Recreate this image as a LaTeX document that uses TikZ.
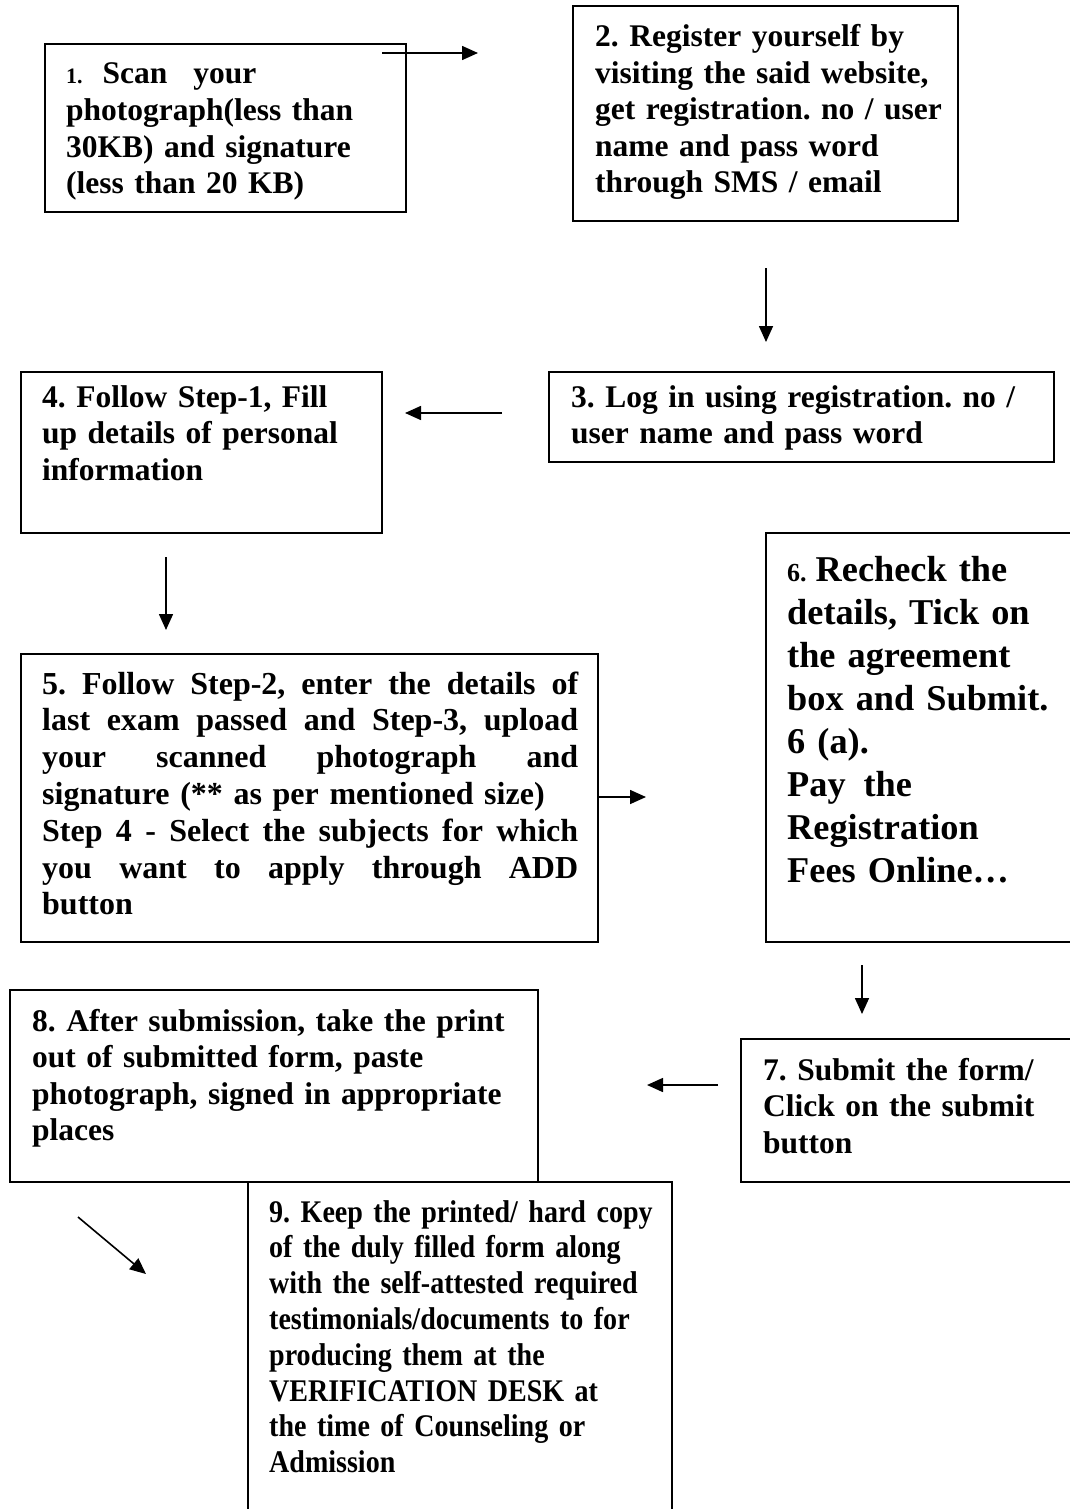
\documentclass[tikz,border=0pt]{standalone}
\usepackage{fontspec}
\setmainfont{Liberation Serif}
\newfontfamily\condfont[FakeStretch=0.89]{Liberation Serif}
\usetikzlibrary{arrows.meta}
\newcommand\jline[1]{\leavevmode\hbox to 536pt{\spaceskip=0.25em plus 1fil\relax #1}}
\begin{document}
\frenchspacing
\begin{tikzpicture}[x=1pt,y=-1pt,
  box/.style={draw, line width=1.6pt, inner sep=0pt, outer sep=0pt, anchor=north west},
  txt/.style={anchor=base west, inner sep=0pt, text width=700pt, align=left,
              font=\bfseries\fontsize{31.5}{36.6}\selectfont},
  arr/.style={line width=1.6pt, -{Triangle[length=16pt,width=14pt]}}]
\useasboundingbox[fill=white] (0,0) rectangle (1070,1509);

% boxes
\node[box, minimum width=361pt, minimum height=168pt] (b1) at (45,44) {};
\node[box, minimum width=385pt, minimum height=215pt] (b2) at (573,6) {};
\node[box, minimum width=505pt, minimum height=90pt]  (b3) at (549,372) {};
\node[box, minimum width=361pt, minimum height=161pt] (b4) at (21,372) {};
\node[box, minimum width=577pt, minimum height=288pt] (b5) at (21,654) {};
\node[box, minimum width=310pt, minimum height=409pt] (b6) at (766,533) {};
\node[box, minimum width=335pt, minimum height=143pt] (b7) at (741,1039) {};
\node[box, minimum width=528pt, minimum height=192pt] (b8) at (10,990) {};
\node[box, minimum width=424pt, minimum height=335pt] (b9) at (248,1182) {};

% texts
\node[txt] (t1) at (66,84) {{\fontsize{22}{36.6}\selectfont 1.}\hspace{20pt}Scan\hspace{26pt}your\\photograph(less than\\30KB) and signature\\(less than 20 KB)};
\node[txt] (t2) at (595,46.5) {2. Register yourself by\\visiting the said website,\\get registration. no / user\\name and pass word\\through SMS / email};
\node[txt] (t3) at (571,407) {3. Log in using registration. no /\\user name and pass word};
\node[txt] (t4) at (42,407) {4. Follow Step-1, Fill\\up details of personal\\information};
\node[txt, font=\bfseries\fontsize{32}{36.8}\selectfont] (t5) at (42,694) {%
\jline{5. Follow Step-2, enter the details of}\\
\jline{last exam passed and Step-3, upload}\\
\jline{your scanned photograph and}\\
signature (** as per mentioned size)\\
\jline{Step 4 - Select the subjects for which}\\
\jline{you want to apply through ADD}\\
button};
\node[txt, font=\bfseries\fontsize{36.3}{43}\selectfont] (t6) at (787,581) {{\fontsize{26}{43}\selectfont 6.}\hspace{9pt}Recheck the\\details, Tick on\\the agreement\\box and Submit.\\6 (a).\\Pay\hspace{18pt}the\\Registration\\Fees Online…};
\node[txt] (t7) at (763,1080) {7. Submit the form/\\Click on the submit\\button};
\node[txt] (t8) at (32,1031) {8. After submission, take the print\\out of submitted form, paste\\photograph, signed in appropriate\\places};
\node[txt, font=\condfont\bfseries\fontsize{31.5}{35.8}\selectfont] (t9) at (269,1222) {9. Keep the printed/ hard copy\\of the duly filled form along\\with the self-attested required\\testimonials/documents to for\\producing them at the\\VERIFICATION DESK at\\the time of Counseling or\\Admission};

% arrow end points
\coordinate (a1s) at (382,53);  \coordinate (a1e) at (478,53);
\coordinate (a2s) at (766,268); \coordinate (a2e) at (766,342);
\coordinate (a3s) at (502,413); \coordinate (a3e) at (405,413);
\coordinate (a4s) at (166,557); \coordinate (a4e) at (166,630);
\coordinate (a5s) at (598,797); \coordinate (a5e) at (646,797);
\coordinate (a6s) at (862,965); \coordinate (a6e) at (862,1014);
\coordinate (a7s) at (718,1085); \coordinate (a7e) at (647,1085);
\coordinate (a8s) at (78,1217); \coordinate (a8e) at (146,1274);

\draw[arr] (a1s) -- (a1e);
\draw[arr] (a2s) -- (a2e);
\draw[arr] (a3s) -- (a3e);
\draw[arr] (a4s) -- (a4e);
\draw[arr] (a5s) -- (a5e);
\draw[arr] (a6s) -- (a6e);
\draw[arr] (a7s) -- (a7e);
\draw[arr] (a8s) -- (a8e);
\end{tikzpicture}
\end{document}
